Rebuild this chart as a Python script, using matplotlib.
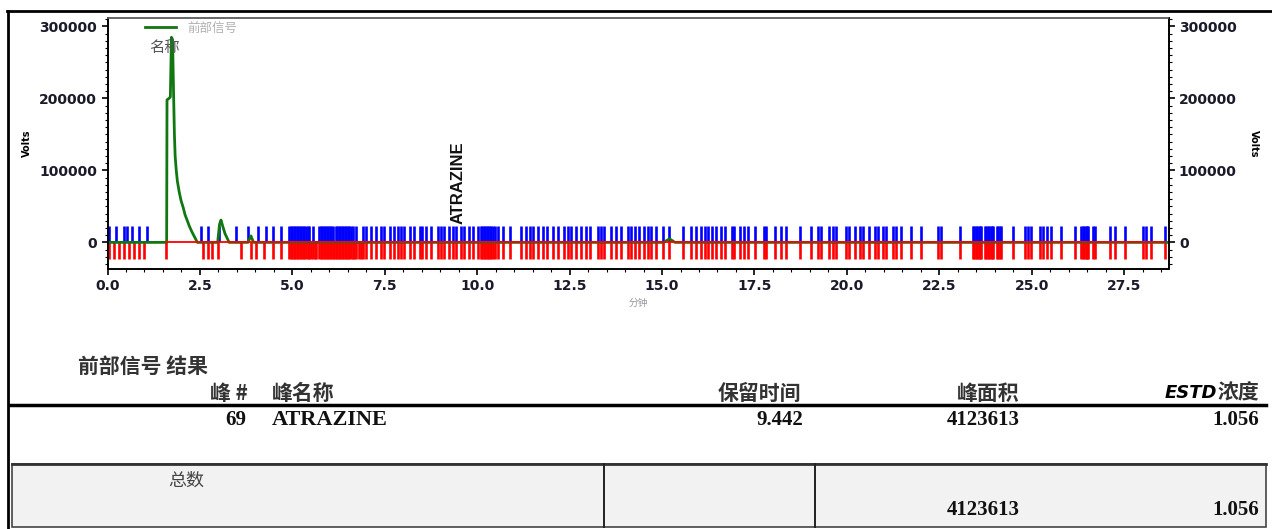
import matplotlib
matplotlib.use("Agg")
import matplotlib.pyplot as plt
from matplotlib.lines import Line2D
from matplotlib.patches import Rectangle
from matplotlib.ticker import MultipleLocator, FormatStrFormatter

W, H = 1272, 529
CJK = ['Noto Sans CJK SC', 'DejaVu Sans']

# chromatogram trace (minutes, volts)
trace_time = [0, 1.55, 1.60, 1.61, 1.66, 1.70, 1.73, 1.76, 1.79, 1.81, 1.83, 1.86, 1.89,
              1.94, 1.99, 2.05, 2.10, 2.16, 2.21, 2.28, 2.35, 2.43, 2.98, 3.03, 3.07,
              3.12, 3.18, 3.29, 3.80, 3.88, 3.95, 15.05, 15.20, 15.35, 28.7]
trace_signal = [0, 0, 0, 198000, 200000, 202000, 285000, 282000, 200000, 150000, 120000,
                100000, 85000, 70000, 58000, 48000, 38000, 30000, 23000, 15000, 8000, 0,
                0, 25000, 31000, 22000, 12000, 0, 0, 9000, 0, 0, 5000, 0, 0]

# event marks (minutes)
blue_only = [0.05, 0.23, 0.45, 0.54, 0.67, 0.86, 1.08, 2.53, 2.71, 3.02, 3.47, 3.79,
             4.06, 4.28, 4.47, 4.69]
red_only = [0.05, 0.18, 0.32, 0.45, 0.59, 0.72, 0.86, 0.99, 1.58, 2.57, 2.71, 2.84, 2.98,
            3.61, 3.88, 4.02, 4.24, 4.47, 4.69, 5.50, 5.60, 5.65, 6.12, 6.67, 6.80, 6.85]
shared_events = [
    4.92, 4.96, 5.00, 5.04, 5.08, 5.12, 5.16, 5.20, 5.24, 5.28, 5.32, 5.36, 5.41, 5.46,
    5.55, 5.73, 5.77, 5.81, 5.85, 5.89, 5.93, 5.97, 6.01, 6.05, 6.09,
    6.18, 6.22, 6.26, 6.30, 6.34, 6.38, 6.42, 6.46, 6.50, 6.54, 6.58, 6.63,
    6.72, 6.90, 6.99, 7.13, 7.27, 7.40, 7.49, 7.63, 7.76, 7.85, 7.94, 8.03, 8.17, 8.30,
    8.44, 8.52, 8.61, 8.76, 8.93, 9.02, 9.11, 9.25, 9.34, 9.43, 9.56, 9.65, 9.79, 9.88,
    10.01, 10.10, 10.14, 10.18, 10.22, 10.26, 10.30, 10.34, 10.38, 10.42, 10.47,
    10.56, 10.69, 10.88, 11.19, 11.32, 11.42, 11.51, 11.64, 11.77, 11.90, 12.05, 12.18,
    12.36, 12.45, 12.55, 12.68, 12.81, 12.94, 13.04, 13.26, 13.35, 13.44, 13.63, 13.76,
    13.89, 14.07, 14.17, 14.26, 14.39, 14.52, 14.61, 14.71, 14.84, 15.02, 15.20, 15.56,
    15.79, 15.93, 16.06, 16.15, 16.24, 16.34, 16.47, 16.60, 16.69, 16.88, 16.96, 17.10,
    17.23, 17.32, 17.51, 17.77, 17.82, 18.05, 18.22, 18.36, 18.72, 19.03, 19.22, 19.31,
    19.53, 19.63, 19.71, 19.98, 20.07, 20.21, 20.35, 20.43, 20.61, 20.75, 20.84, 20.97,
    21.06, 21.25, 21.34, 21.47, 21.74, 22.01, 22.47, 22.55, 23.05,
    23.41, 23.45, 23.49, 23.53, 23.57, 23.61, 23.64, 23.73, 23.77, 23.81, 23.85, 23.89,
    23.93, 23.96, 24.05, 24.09, 24.13, 24.18, 24.50, 24.81, 24.90, 24.99, 25.22, 25.31,
    25.40, 25.53, 25.80, 26.17, 26.34, 26.38, 26.42, 26.46, 26.50, 26.52, 26.66, 26.71,
    27.11, 27.25, 27.52, 28.01, 28.10, 28.23, 28.60]
mark_height = 23000
baseline_start, baseline_end = 1.58, 28.6

peak_name = "ATRAZINE"
peak_rt = 9.442

# results table
col_headers = ["峰 #", "峰名称", "保留时间", "峰面积", "浓度"]
row_values = ["69", "ATRAZINE", "9.442", "4123613", "1.056"]
total_area = "4123613"
total_conc = "1.056"


def fx(x):
    return x / W


def fy(y):
    return 1 - y / H


fig = plt.figure(figsize=(W / 100, H / 100), dpi=100)
ax = fig.add_axes([fx(107.5), fy(269), fx(1168.5) - fx(107.5), fy(17.5) - fy(269)])

ax.vlines(blue_only + shared_events, 0, mark_height, color='#0000ff', lw=1.9, zorder=2)
ax.vlines(red_only + shared_events, -mark_height, 0, color='#ff0000', lw=1.9, zorder=2)
ax.plot(trace_time, trace_signal, color='#117711', lw=2.0, label='前部信号', zorder=3)
ax.plot([baseline_start, baseline_end], [0, 0], color='#ff0000', lw=1.3, zorder=4)

ax.set_xlim(0, 28.7)
ax.set_ylim(-37000, 312500)
ax.xaxis.set_major_locator(MultipleLocator(2.5))
ax.xaxis.set_minor_locator(MultipleLocator(0.5))
ax.xaxis.set_major_formatter(FormatStrFormatter('%.1f'))
ax.yaxis.set_major_locator(MultipleLocator(100000))
ax.yaxis.set_minor_locator(MultipleLocator(10000))

ax2 = ax.twinx()
ax2.set_ylim(ax.get_ylim())
ax2.yaxis.set_major_locator(MultipleLocator(100000))
ax2.yaxis.set_minor_locator(MultipleLocator(10000))

for a in (ax, ax2):
    a.tick_params(which='major', length=4, width=1.2, labelsize=10, colors='black')
    a.tick_params(which='minor', length=2, width=0.8)
    for lab in a.get_xticklabels() + a.get_yticklabels():
        lab.set_fontweight('bold')
        lab.set_color('#1a1a2a')
    for s in a.spines.values():
        s.set_linewidth(1.2)
    a.spines['top'].set_color('#666666')

ax.set_ylabel('Volts', fontsize=7, fontweight='bold', labelpad=5)
ax2.set_ylabel('Volts', fontsize=7, fontweight='bold', rotation=270, labelpad=16)
ax.set_xlabel('分钟', fontsize=7, color='#999999', family=CJK, labelpad=3)

ax.legend(loc='center left', bbox_to_anchor=(fx(145), fy(28)), bbox_transform=fig.transFigure,
          frameon=False, borderpad=0, borderaxespad=0, handlelength=2.5, handletextpad=0.9,
          prop={'family': CJK, 'size': 9}, labelcolor='#b0b0b0')

ax.text(1.13, 271000, '名称', family=CJK, fontsize=11, color='#555555', ha='left', va='center')
ax.text(peak_rt + 0.05, 26000, peak_name, rotation=90, ha='center', va='bottom',
        family='Liberation Sans', fontweight='bold', fontsize=12, color='#111111')

# page border
fig.add_artist(Line2D([fx(7), 1], [fy(11), fy(11)], color='black', lw=2))
fig.add_artist(Line2D([fx(8), fx(8)], [fy(11), 0], color='black', lw=2))

# table text
serif = dict(family='Liberation Serif', fontweight='bold', fontsize=15, color='#111111')
head = dict(family=CJK, fontweight='bold', fontstyle='italic', fontsize=15, color='#333333')
fig.text(fx(78), fy(366), '前部信号 结果', family=CJK, fontweight='bold', fontsize=15,
         color='#333333', va='center')
fig.text(fx(248), fy(393), col_headers[0], ha='right', va='center', **head)
fig.text(fx(272), fy(393), col_headers[1], ha='left', va='center', **head)
fig.text(fx(801), fy(393), col_headers[2], ha='right', va='center', **head)
fig.text(fx(1020), fy(393), col_headers[3], ha='right', va='center', **head)
fig.text(fx(1259), fy(393), col_headers[4], ha='right', va='center', **head)
fig.text(fx(1217), fy(393), 'ESTD', ha='right', va='center', family='DejaVu Sans',
         fontweight='heavy', fontstyle='italic', fontsize=13, color='black')
fig.add_artist(Line2D([fx(10), fx(1266)], [fy(405), fy(405)], color='black', lw=2.5))

fig.text(fx(246), fy(420), row_values[0], ha='right', va='center', **serif)
fig.text(fx(272), fy(420), row_values[1], ha='left', va='center',
         **dict(serif, fontsize=16))
fig.text(fx(803), fy(420), row_values[2], ha='right', va='center', **serif)
fig.text(fx(1020), fy(420), row_values[3], ha='right', va='center', **serif)
fig.text(fx(1259), fy(420), row_values[4], ha='right', va='center', **serif)

# totals box
fig.add_artist(Rectangle((fx(12), fy(527)), fx(1266) - fx(12), fy(464) - fy(527),
                         transform=fig.transFigure, facecolor='#f2f2f2',
                         edgecolor='#444444', lw=1.2))
fig.add_artist(Line2D([fx(12), fx(1266)], [fy(464), fy(464)], color='#333333', lw=2))
for xv in (604, 815):
    fig.add_artist(Line2D([fx(xv), fx(xv)], [fy(464), fy(527)], color='#222222', lw=1.4))
fig.text(fx(168), fy(481), '总数', family=CJK, fontsize=13, color='#444444', va='center')
fig.text(fx(1020), fy(510), total_area, ha='right', va='center', **serif)
fig.text(fx(1259), fy(510), total_conc, ha='right', va='center', **serif)

fig.savefig('out.png', dpi=100)
